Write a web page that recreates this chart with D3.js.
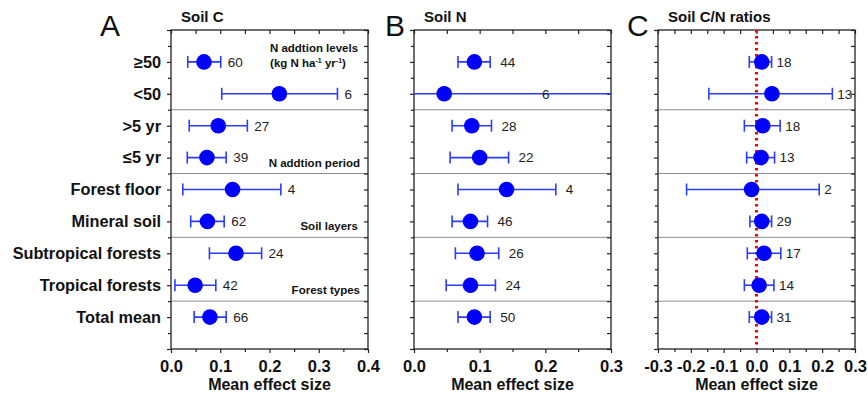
<!DOCTYPE html>
<html lang="en">
<head>
    <meta charset="UTF-8">
    <title>Soil C, N and C/N effect sizes</title>
    <style>
        body { margin: 0; background: #fff; }
        #chart text { font-family: "Liberation Sans", Arial, sans-serif; }
    </style>
</head>
<body>
<div id="chart"></div>
<script src="https://cdn.jsdelivr.net/npm/d3@7"></script>
<script>
    // categories (top to bottom)
    var rows = ["≥50", "<50", ">5 yr", "≤5 yr", "Forest floor", "Mineral soil",
        "Subtropical forests", "Tropical forests", "Total mean"];
    var groupBreaks = [2.5, 4.5, 6.5, 8.5];

    // panel A - soil C
    var cMean = [0.067, 0.220, 0.096, 0.073, 0.125, 0.074, 0.132, 0.049, 0.079];
    var cLo   = [0.034, 0.103, 0.037, 0.033, 0.024, 0.040, 0.078, 0.008, 0.047];
    var cHi   = [0.101, 0.338, 0.155, 0.112, 0.223, 0.108, 0.184, 0.091, 0.112];
    var cN    = [60, 6, 27, 39, 4, 62, 24, 42, 66];

    // panel B - soil N
    var nMean = [0.092, 0.046, 0.088, 0.100, 0.141, 0.086, 0.096, 0.086, 0.092];
    var nLo   = [0.067, -0.050, 0.058, 0.055, 0.067, 0.058, 0.063, 0.049, 0.067];
    var nHi   = [0.116, 0.360, 0.118, 0.144, 0.216, 0.112, 0.129, 0.124, 0.116];
    var nN    = [44, 6, 28, 22, 4, 46, 26, 24, 50];

    // panel C - soil C/N ratio
    var rMean = [0.016, 0.047, 0.019, 0.014, -0.015, 0.016, 0.023, 0.008, 0.016];
    var rLo   = [-0.022, -0.145, -0.037, -0.030, -0.213, -0.020, -0.028, -0.037, -0.022];
    var rHi   = [0.046, 0.231, 0.072, 0.055, 0.191, 0.046, 0.074, 0.053, 0.046];
    var rN    = [18, 13, 18, 13, 2, 29, 17, 14, 31];

    var ticksA = [0, 0.1, 0.2, 0.3, 0.4];
    var ticksB = [0, 0.1, 0.2, 0.3];
    var ticksC = [-0.3, -0.2, -0.1, 0, 0.1, 0.2, 0.3];

    // "top" is taken by window.top, so the plot edges get other names
    var W = 868, H = 399, plotTop = 30, plotBottom = 349, pw = 197;

    var panels = [
        {key: "A", title: "Soil C", left: 171, domain: [0, 0.4], ticks: ticksA,
            mean: cMean, lo: cLo, hi: cHi, n: cN, gap: 7, letterX: 100, yLabels: true},
        {key: "B", title: "Soil N", left: 414, domain: [0, 0.3], ticks: ticksB,
            mean: nMean, lo: nLo, hi: nHi, n: nN, gap: 10, letterX: 385},
        {key: "C", title: "Soil C/N ratios", left: 658, domain: [-0.3, 0.3], ticks: ticksC,
            mean: rMean, lo: rLo, hi: rHi, n: rN, gap: 5, letterX: 627, zeroLine: true}
    ];

    var svg = d3.select("#chart").append("svg")
        .attr("width", W).attr("height", H)
        .attr("viewBox", "0 0 " + W + " " + H);

    svg.append("rect").attr("width", W).attr("height", H).attr("fill", "#fff");

    var y = d3.scaleLinear().domain([0, 10]).range([plotTop, plotBottom]);
    var yMajor = d3.range(0, 11);
    var yMinor = d3.range(0.5, 10, 1);
    var fmt = function (d) { return d.toFixed(1); };

    panels.forEach(function (p) {
        var x = d3.scaleLinear().domain(p.domain).range([p.left, p.left + pw]);
        var minor = d3.range(p.domain[0] + 0.05, p.domain[1], 0.1);
        var g = svg.append("g").attr("class", "panel-" + p.key);

        g.append("clipPath").attr("id", "clip" + p.key)
            .append("rect").attr("x", p.left).attr("y", plotTop)
            .attr("width", pw).attr("height", plotBottom - plotTop);

        // group separators
        g.selectAll("line.sep").data(groupBreaks).enter().append("line")
            .attr("class", "sep")
            .attr("x1", p.left).attr("x2", p.left + pw)
            .attr("y1", function (d) { return y(d); })
            .attr("y2", function (d) { return y(d); })
            .attr("stroke", "#8c8c8c").attr("stroke-width", 1);

        // axes: bottom/left outward, top/right inward
        function styleAxis(sel) {
            sel.select(".domain").remove();
            sel.selectAll(".tick line").attr("stroke", "#222").attr("stroke-width", 1.2);
        }
        g.append("g").attr("transform", "translate(0," + plotBottom + ")")
            .call(d3.axisBottom(x).tickValues(p.ticks).tickFormat(fmt).tickSize(4).tickPadding(7))
            .call(styleAxis)
            .selectAll("text").attr("font-size", 16.5).attr("font-weight", "bold")
            .attr("fill", "#111");
        g.append("g").attr("transform", "translate(0," + plotBottom + ")")
            .call(d3.axisBottom(x).tickValues(minor).tickFormat("").tickSize(3))
            .call(styleAxis);
        g.append("g").attr("transform", "translate(0," + plotTop + ")")
            .call(d3.axisTop(x).tickValues(p.ticks.concat(minor)).tickFormat("").tickSize(-4))
            .call(styleAxis);
        g.append("g").attr("transform", "translate(" + p.left + ",0)")
            .call(d3.axisLeft(y).tickValues(yMajor).tickFormat("").tickSize(4))
            .call(styleAxis);
        g.append("g").attr("transform", "translate(" + p.left + ",0)")
            .call(d3.axisLeft(y).tickValues(yMinor).tickFormat("").tickSize(3))
            .call(styleAxis);
        g.append("g").attr("transform", "translate(" + (p.left + pw) + ",0)")
            .call(d3.axisRight(y).tickValues(yMajor.concat(yMinor)).tickFormat("").tickSize(-4))
            .call(styleAxis);

        // frame
        g.append("rect").attr("x", p.left).attr("y", plotTop)
            .attr("width", pw).attr("height", plotBottom - plotTop)
            .attr("fill", "none").attr("stroke", "#222").attr("stroke-width", 1.3);

        if (p.zeroLine) {
            g.append("line")
                .attr("x1", x(0)).attr("x2", x(0)).attr("y1", plotTop).attr("y2", plotBottom)
                .attr("stroke", "#ff0000").attr("stroke-width", 3)
                .attr("stroke-dasharray", "2.6,3.4");
        }

        var data = rows.map(function (r, i) {
            return {row: i + 1, mean: p.mean[i], lo: p.lo[i], hi: p.hi[i], n: p.n[i]};
        });

        var marks = g.append("g").attr("clip-path", "url(#clip" + p.key + ")");
        var eb = marks.selectAll("g.eb").data(data).enter().append("g").attr("class", "eb");
        eb.append("line")
            .attr("x1", function (d) { return x(d.lo); })
            .attr("x2", function (d) { return x(d.hi); })
            .attr("y1", function (d) { return y(d.row); })
            .attr("y2", function (d) { return y(d.row); })
            .attr("stroke", "#2a3cff").attr("stroke-width", 1.6);
        ["lo", "hi"].forEach(function (k) {
            eb.append("line")
                .attr("x1", function (d) { return x(d[k]); })
                .attr("x2", function (d) { return x(d[k]); })
                .attr("y1", function (d) { return y(d.row) - 6; })
                .attr("y2", function (d) { return y(d.row) + 6; })
                .attr("stroke", "#2a3cff").attr("stroke-width", 1.6);
        });
        marks.selectAll("circle").data(data).enter().append("circle")
            .attr("cx", function (d) { return x(d.mean); })
            .attr("cy", function (d) { return y(d.row); })
            .attr("r", 7.8)
            .attr("fill", "#0000ff");

        // sample sizes
        g.selectAll("text.n").data(data).enter().append("text")
            .attr("class", "n")
            .attr("x", function (d) {
                return d.hi > p.domain[1] ? p.left + pw * 0.65 : x(d.hi) + p.gap;
            })
            .attr("y", function (d) { return y(d.row); })
            .attr("dy", "0.36em")
            .attr("font-size", 13.5).attr("fill", "#222")
            .text(function (d) { return d.n; });

        // panel letter and title
        svg.append("text").attr("x", p.letterX).attr("y", 36)
            .attr("font-size", 30).attr("fill", "#111").text(p.key);
        svg.append("text").attr("x", p.left + 10).attr("y", 22)
            .attr("font-size", 15).attr("font-weight", "bold").attr("fill", "#111")
            .text(p.title);

        // x axis title
        svg.append("text").attr("x", p.left + pw / 2).attr("y", 390)
            .attr("text-anchor", "middle").attr("font-size", 16).attr("font-weight", "bold")
            .attr("fill", "#111").text("Mean effect size");

        if (p.yLabels) {
            svg.selectAll("text.cat").data(data).enter().append("text")
                .attr("class", "cat")
                .attr("x", p.left - 10)
                .attr("y", function (d) { return y(d.row); })
                .attr("dy", "0.36em")
                .attr("text-anchor", "end")
                .attr("font-size", 16.3).attr("font-weight", "bold").attr("fill", "#111")
                .text(function (d) { return rows[d.row - 1]; });

            // group notes inside panel A
            var right = p.left + pw;
            var note = g.append("g").attr("font-size", 11.5).attr("font-weight", "bold")
                .attr("fill", "#111");
            note.append("text").attr("x", right - 54).attr("y", y(0.56)).attr("dy", "0.36em")
                .attr("text-anchor", "middle").text("N addtion levels");
            var unit = note.append("text").attr("x", right - 60).attr("y", y(1.03))
                .attr("dy", "0.36em").attr("text-anchor", "middle");
            unit.append("tspan").text("(kg N ha");
            unit.append("tspan").attr("font-size", 7).attr("dy", -4).text("-1");
            unit.append("tspan").attr("dy", 4).text(" yr");
            unit.append("tspan").attr("font-size", 7).attr("dy", -4).text("-1");
            unit.append("tspan").attr("dy", 4).text(")");
            note.append("text").attr("x", right - 8).attr("y", y(4.16)).attr("dy", "0.36em")
                .attr("text-anchor", "end").text("N addtion period");
            note.append("text").attr("x", right - 10).attr("y", y(6.15)).attr("dy", "0.36em")
                .attr("text-anchor", "end").text("Soil layers");
            note.append("text").attr("x", right - 8).attr("y", y(8.15)).attr("dy", "0.36em")
                .attr("text-anchor", "end").text("Forest types");
        }
    });
</script>
</body>
</html>
